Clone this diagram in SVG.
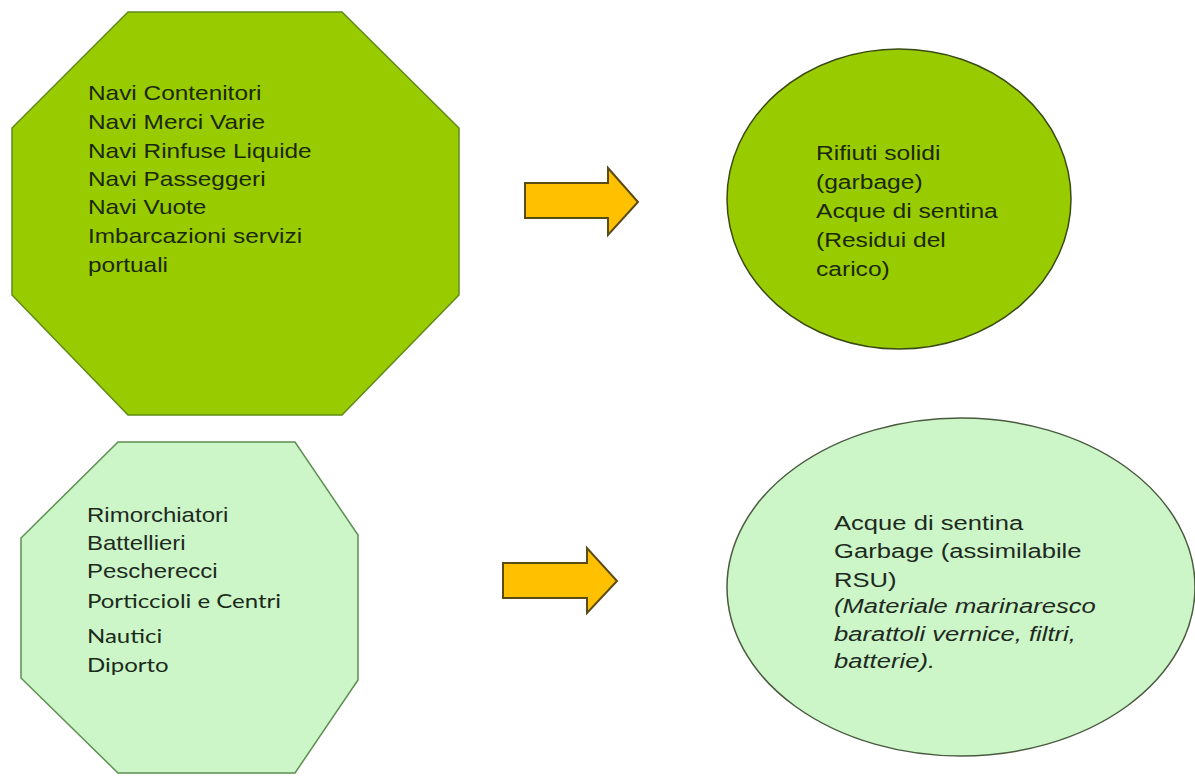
<svg xmlns="http://www.w3.org/2000/svg" width="1195" height="776" viewBox="0 0 1195 776">
<style>
.t{font-family:"Liberation Sans",Arial,sans-serif;font-size:20px;fill:#1a280c}
.c{font-family:Lato,"Liberation Sans",sans-serif;font-size:20px;fill:#1a2a1a}
.g{fill:#1e2a1e}
.arr{fill:#ffc000;stroke:#5a4a14;stroke-width:2;stroke-linejoin:miter}
</style>
<rect width="1195" height="776" fill="#ffffff"/>
<g id="node-ships">
<polygon points="128,12 342,12 459,128 459,295 342,415 128,415 12,295 12,128" fill="#99cc00" stroke="#5f8a18" stroke-width="1.5"/>
<g transform="translate(88 0) scale(1.22 1)">
<text class="t" x="0" y="100">Navi Contenitori</text>
<text class="t" x="0" y="129">Navi Merci Varie</text>
<text class="t" x="0" y="158">Navi Rinfuse Liquide</text>
<text class="t" x="0" y="186">Navi Passeggeri</text>
<text class="t" x="0" y="214">Navi Vuote</text>
<text class="t" x="0" y="243">Imbarcazioni servizi</text>
<text class="t" x="0" y="272">portuali</text>
</g>
</g>
<g id="node-small">
<polygon points="118,442 295,442 358,535 358,680 295,773 118,773 21,678 21,538" fill="#ccf5c8" stroke="#5c8f50" stroke-width="1.5"/>
<g transform="translate(87 0) scale(1.2 1)">
<text class="t g" x="0" y="522">Rimorchiatori</text>
<text class="t g" x="0" y="550">Battellieri</text>
<text class="t g" x="0" y="578">Pescherecci</text>
<text class="c" x="0" y="608">Porticcioli e Centri</text>
<text class="c" x="0" y="643">Nautici</text>
<text class="c" x="0" y="672">Diporto</text>
</g>
</g>
<g id="node-waste1">
<ellipse cx="899" cy="199" rx="172" ry="150" fill="#99cc00" stroke="#3a4a14" stroke-width="1.5"/>
<g transform="translate(816 0) scale(1.23 1)">
<text class="t" x="0" y="160">Rifiuti solidi</text>
<text class="t" x="0" y="189">(garbage)</text>
<text class="t" x="0" y="218">Acque di sentina</text>
<text class="t" x="0" y="247">(Residui del</text>
<text class="t" x="0" y="276">carico)</text>
</g>
</g>
<g id="node-waste2">
<ellipse cx="961" cy="587" rx="234" ry="169" fill="#ccf5c8" stroke="#4a5a40" stroke-width="1.5"/>
<g transform="translate(834 0) scale(1.28 1)">
<text class="t g" x="0" y="530">Acque di sentina</text>
<text class="t g" x="0" y="558">Garbage (assimilabile</text>
<text class="t g" x="0" y="587">RSU)</text>
<text class="t g" x="0" y="613" font-style="italic">(Materiale marinaresco</text>
<text class="t g" x="0" y="641" font-style="italic">barattoli vernice, filtri,</text>
<text class="t g" x="0" y="668" font-style="italic">batterie).</text>
</g>
</g>
<g id="connectors">
<polygon class="arr" points="525,183 608,183 608,168 638,202 608,235 608,218 525,218"/>
<polygon class="arr" points="503,563 587,563 587,548 617,581 587,613 587,598 503,598"/>
</g>
</svg>
